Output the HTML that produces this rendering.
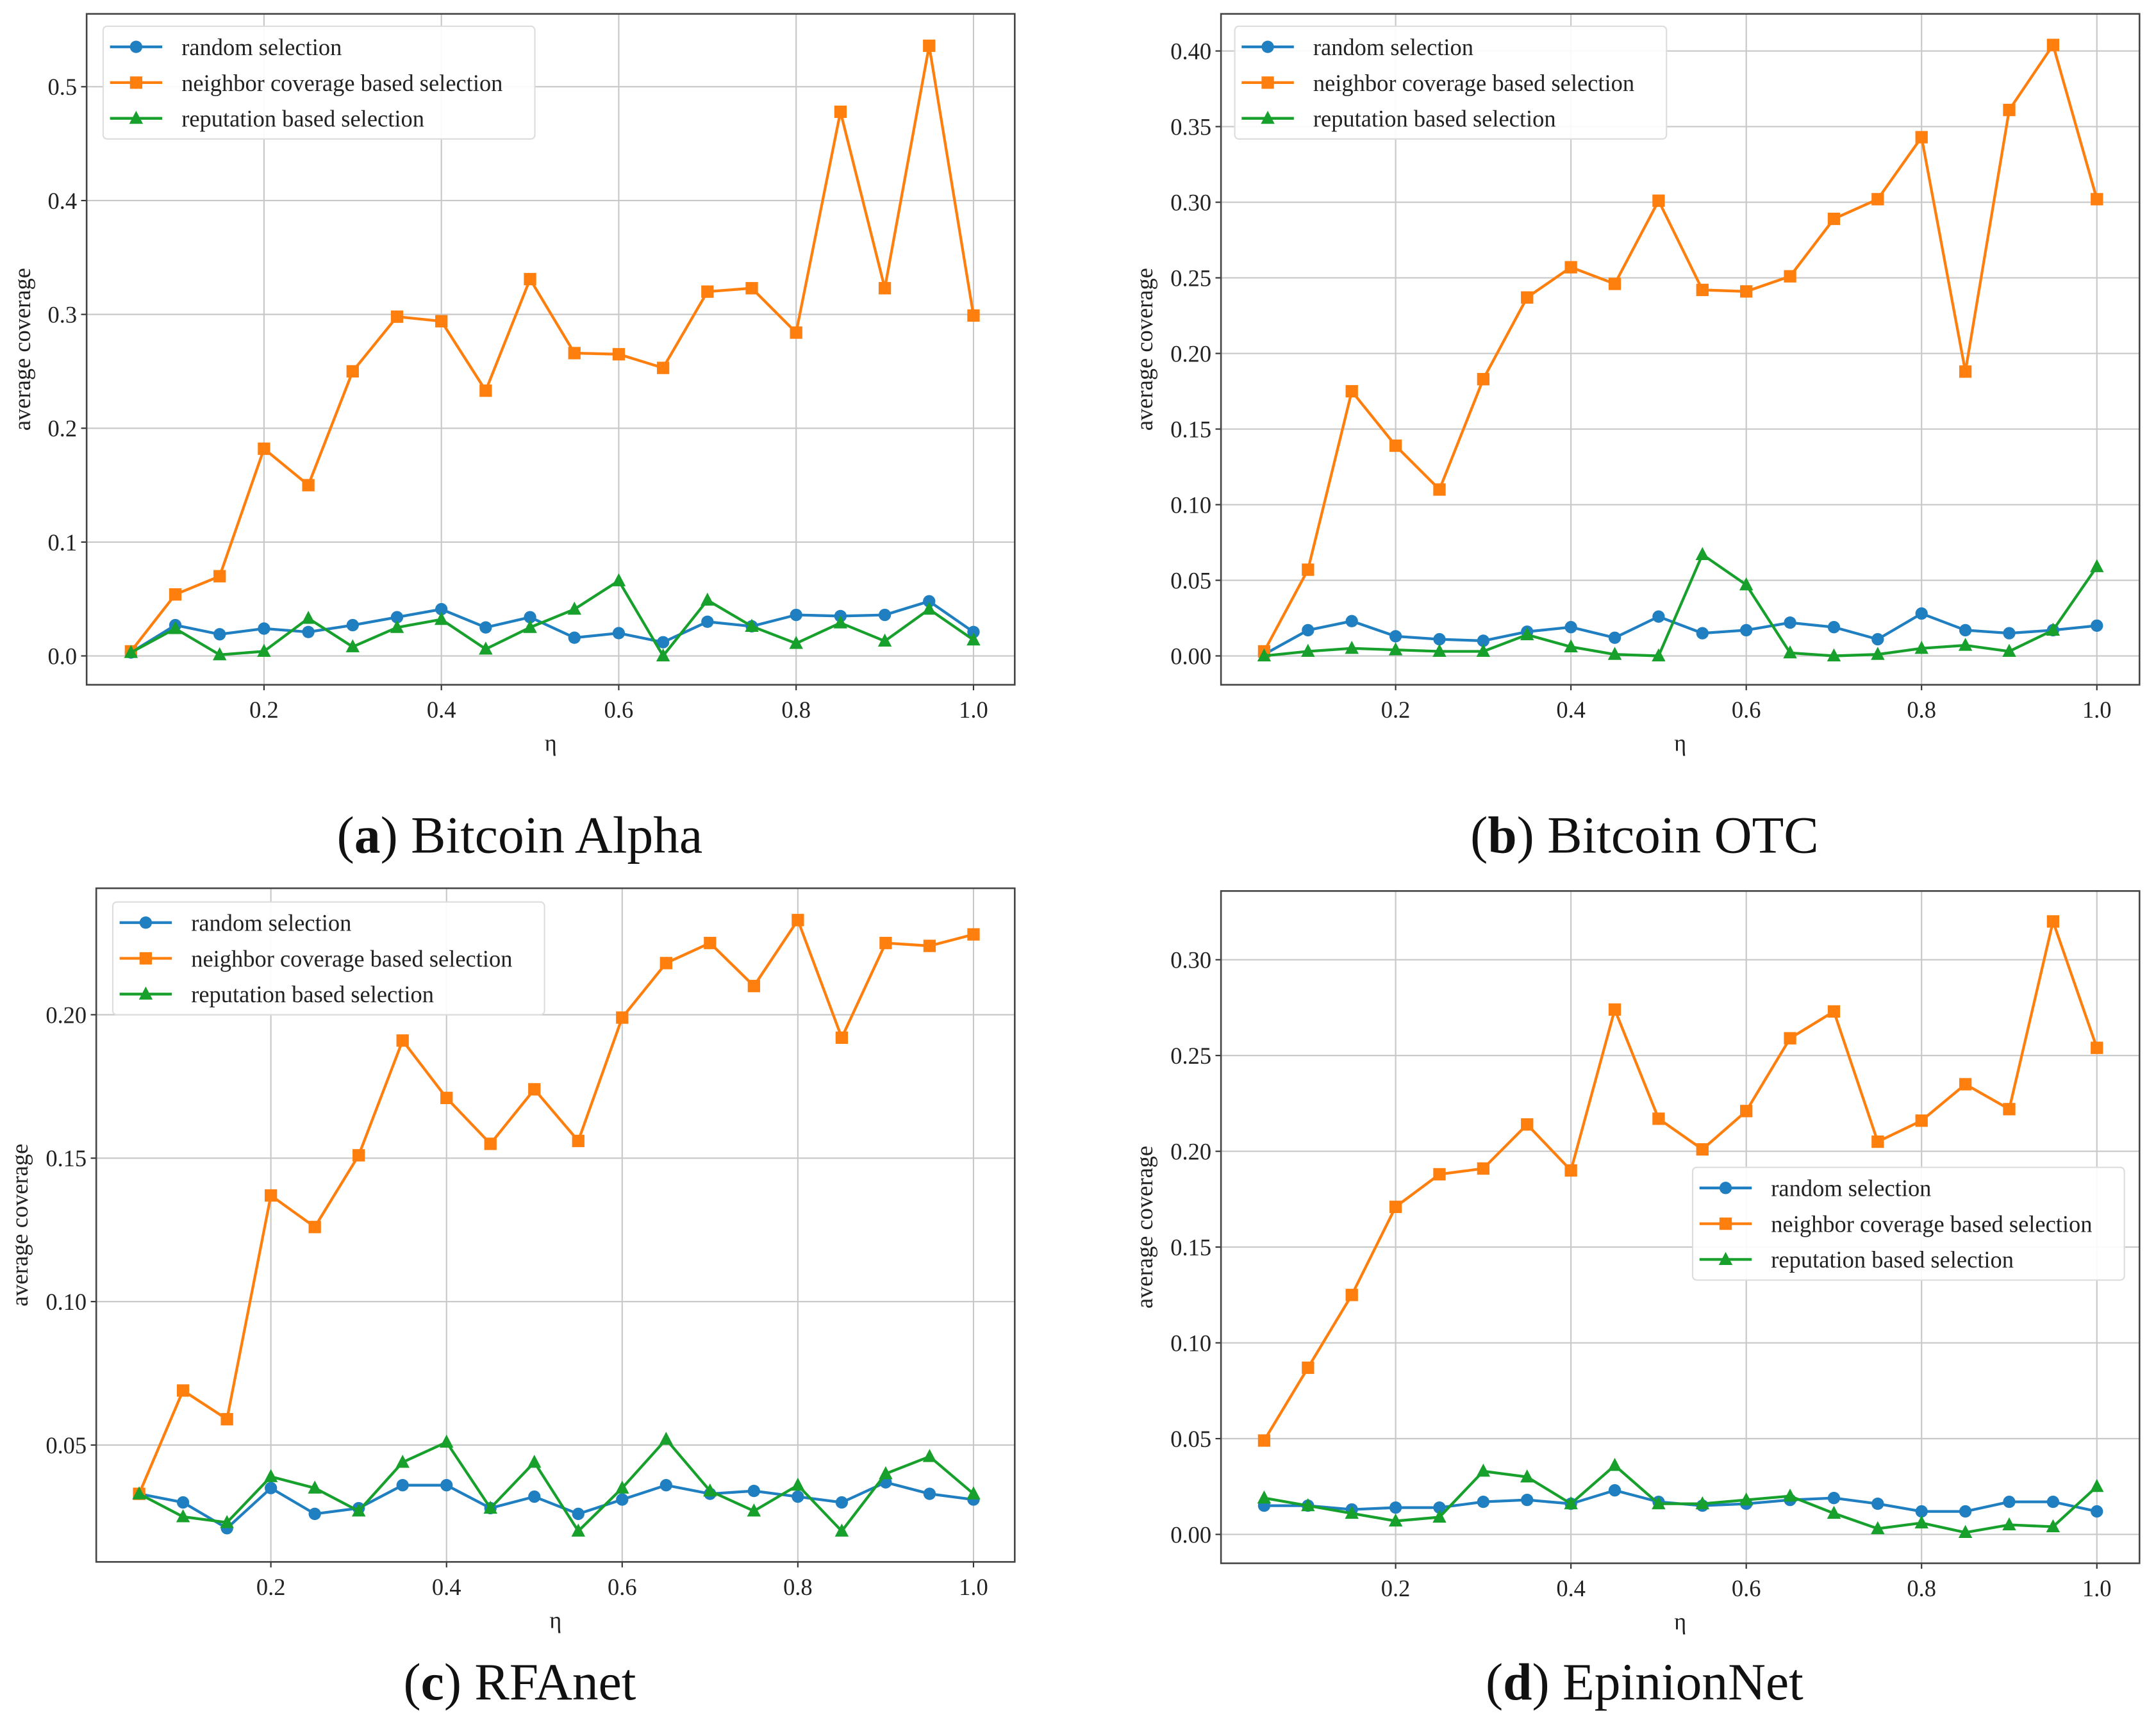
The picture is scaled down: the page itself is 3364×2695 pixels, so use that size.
<!DOCTYPE html>
<html><head><meta charset="utf-8">
<style>
html,body{margin:0;padding:0;background:#fff;}
svg{display:block;font-family:"Liberation Serif","DejaVu Serif",serif;}
svg text{font-family:"Liberation Serif","DejaVu Serif",serif;}
</style></head>
<body>
<svg id="fig" width="3364" height="2695" viewBox="0 0 1568 1256" font-family="Liberation Serif, DejaVu Serif, serif" xmlns="http://www.w3.org/2000/svg"></svg>
<script>
const etaValues = [0.05,0.1,0.15,0.2,0.25,0.3,0.35,0.4,0.45,0.5,0.55,0.6,0.65,0.7,0.75,0.8,0.85,0.9,0.95,1.0];
const xTickValues = [0.2,0.4,0.6,0.8,1.0];
const xTickLabels = ["0.2","0.4","0.6","0.8","1.0"];
const seriesNames = ["random selection","neighbor coverage based selection","reputation based selection"];

const aRandom = [.003,.027,.019,.024,.021,.027,.034,.041,.025,.034,.016,.020,.012,.030,.026,.036,.035,.036,.048,.021];
const aNeighbor = [.004,.054,.070,.182,.150,.250,.298,.294,.233,.331,.266,.265,.253,.320,.323,.284,.478,.323,.536,.299];
const aReputation = [.003,.024,.001,.004,.033,.008,.025,.032,.006,.025,.041,.066,.000,.049,.026,.011,.029,.013,.041,.014];
const aYTicks = [0.0,0.1,0.2,0.3,0.4,0.5];
const aYLabels = ["0.0","0.1","0.2","0.3","0.4","0.5"];

const bRandom = [.001,.017,.023,.013,.011,.010,.016,.019,.012,.026,.015,.017,.022,.019,.011,.028,.017,.015,.017,.020];
const bNeighbor = [.003,.057,.175,.139,.110,.183,.237,.257,.246,.301,.242,.241,.251,.289,.302,.343,.188,.361,.404,.302];
const bReputation = [.000,.003,.005,.004,.003,.003,.014,.006,.001,.000,.067,.047,.002,.000,.001,.005,.007,.003,.017,.059];
const bYTicks = [0,0.05,0.1,0.15,0.2,0.25,0.3,0.35,0.4];
const bYLabels = ["0.00","0.05","0.10","0.15","0.20","0.25","0.30","0.35","0.40"];

const cRandom = [.033,.030,.021,.035,.026,.028,.036,.036,.028,.032,.026,.031,.036,.033,.034,.032,.030,.037,.033,.031];
const cNeighbor = [.033,.069,.059,.137,.126,.151,.191,.171,.155,.174,.156,.199,.218,.225,.210,.233,.192,.225,.224,.228];
const cReputation = [.033,.025,.023,.039,.035,.027,.044,.051,.028,.044,.020,.035,.052,.034,.027,.036,.020,.040,.046,.033];
const cYTicks = [0.05,0.1,0.15,0.2];
const cYLabels = ["0.05","0.10","0.15","0.20"];

const dRandom = [.015,.015,.013,.014,.014,.017,.018,.016,.023,.017,.015,.016,.018,.019,.016,.012,.012,.017,.017,.012];
const dNeighbor = [.049,.087,.125,.171,.188,.191,.214,.190,.274,.217,.201,.221,.259,.273,.205,.216,.235,.222,.320,.254];
const dReputation = [.019,.015,.011,.007,.009,.033,.030,.016,.036,.016,.016,.018,.020,.011,.003,.006,.001,.005,.004,.025];
const dYTicks = [0,0.05,0.1,0.15,0.2,0.25,0.3];
const dYLabels = ["0.00","0.05","0.10","0.15","0.20","0.25","0.30"];

const NS="http://www.w3.org/2000/svg";
const svg=document.getElementById('fig');
const COLORS=["#1f7fc0","#ff7f0e","#18a02c"];
const FF="Liberation Serif, DejaVu Serif, serif";
function mk(tag,attrs,parent){const e=document.createElementNS(NS,tag);for(const k in attrs)e.setAttribute(k,attrs[k]);if(tag==='text')e.setAttribute('font-family',FF);(parent||svg).appendChild(e);return e;}

const panels=[
 {id:'a',L:63,R:738,T:10,B:498,x0:192,x1:708,yv0:0,yp0:477,yv1:0.5,yp1:63,series:[aRandom,aNeighbor,aReputation],yt:aYTicks,yl:aYLabels,leg:[75,19],ylx:22,cap:'Bitcoin Alpha',capY:620,capX:378},
 {id:'b',L:888,R:1556,T:10,B:498,x0:1015,x1:1525,yv0:0,yp0:477,yv1:0.4,yp1:37,series:[bRandom,bNeighbor,bReputation],yt:bYTicks,yl:bYLabels,leg:[898,19],ylx:838,cap:'Bitcoin OTC',capY:620,capX:1196},
 {id:'c',L:70,R:738,T:646,B:1136,x0:197,x1:708,yv0:0.05,yp0:1051,yv1:0.2,yp1:738,series:[cRandom,cNeighbor,cReputation],yt:cYTicks,yl:cYLabels,leg:[82,656],ylx:20,cap:'RFAnet',capY:1236,capX:378},
 {id:'d',L:888,R:1556,T:648,B:1137,x0:1015,x1:1525,yv0:0,yp0:1116,yv1:0.3,yp1:698,series:[dRandom,dNeighbor,dReputation],yt:dYTicks,yl:dYLabels,leg:[1231,849],ylx:838,cap:'EpinionNet',capY:1236,capX:1196}
];

panels.forEach(p=>{
  const g=mk('g',{});
  
  
  const X=v=>p.x0+(v-0.2)/(0.8)*(p.x1-p.x0);
  const Y=v=>p.yp0+(v-p.yv0)/(p.yv1-p.yv0)*(p.yp1-p.yp0);
  xTickValues.forEach((v,i)=>{
    const gl=mk('line',{x1:X(v),x2:X(v),y1:p.T,y2:p.B,stroke:'#c8c8c8','stroke-width':1},g);
    
    
    mk('line',{x1:X(v),x2:X(v),y1:p.B,y2:p.B+4,stroke:'#333','stroke-width':1},g);
    const t=mk('text',{x:X(v),y:p.B+24,'text-anchor':'middle','font-size':17,fill:'#222'},g);
    t.textContent=xTickLabels[i];
    
    
  });
  p.yt.forEach((v,i)=>{
    const gl=mk('line',{x1:p.L,x2:p.R,y1:Y(v),y2:Y(v),stroke:'#c8c8c8','stroke-width':1},g);
    
    
    mk('line',{x1:p.L-4,x2:p.L,y1:Y(v),y2:Y(v),stroke:'#333','stroke-width':1},g);
    const t=mk('text',{x:p.L-7,y:Y(v)+6,'text-anchor':'end','font-size':17,fill:'#222'},g);
    t.textContent=p.yl[i];
    
    
  });
  const frame=mk('rect',{x:p.L,y:p.T,width:p.R-p.L,height:p.B-p.T,fill:'none',stroke:'#444','stroke-width':1.2},g);
  
  
  const marker=(si,cx,cy,parent)=>{
    let m;
    if(si===0) m=mk('circle',{cx:cx,cy:cy,r:4.5,fill:COLORS[0]},parent);
    else if(si===1) m=mk('rect',{x:cx-4.5,y:cy-4.5,width:9,height:9,fill:COLORS[1]},parent);
    else m=mk('polygon',{points:`${cx},${cy-5.5} ${cx+5},${cy+4} ${cx-5},${cy+4}`,fill:COLORS[2]},parent);
    return m;
  };
  p.series.forEach((vals,si)=>{
    const sg=mk('g',{},g);
    
    
    const pts=vals.map((v,i)=>X(etaValues[i])+','+Y(v)).join(' ');
    const pl=mk('polyline',{points:pts,fill:'none',stroke:COLORS[si],'stroke-width':2},sg);
    
    
    vals.forEach((v,i)=>{
      const m=marker(si,X(etaValues[i]),Y(v),sg);
      
      
    });
  });
  const lg=mk('g',{},g);
  
  
  const [lx,ly]=p.leg;
  mk('rect',{x:lx,y:ly,width:314,height:82,rx:3,fill:'#fff','fill-opacity':0.9,stroke:'#ddd','stroke-width':1},lg);
  seriesNames.forEach((n,si)=>{
    const cy=ly+15+si*26;
    const e=mk('g',{},lg);
    
    
    mk('line',{x1:lx+5,x2:lx+43,y1:cy,y2:cy,stroke:COLORS[si],'stroke-width':2},e);
    marker(si,lx+24,cy,e);
    const t=mk('text',{x:lx+57,y:cy+6,'font-size':17,fill:'#222'},e);
    t.textContent=n;
  });
  const xl=mk('text',{x:(p.L+p.R)/2,y:p.B+48,'text-anchor':'middle','font-size':17,fill:'#222'},g);
  xl.textContent='η';
  
  
  const cyl=(p.T+p.B)/2;
  const yl=mk('text',{x:p.ylx,y:cyl,'text-anchor':'middle','font-size':17,fill:'#222',transform:`rotate(-90 ${p.ylx} ${cyl})`},g);
  yl.textContent='average coverage';
  
  
  const cap=mk('text',{x:p.capX,y:p.capY,'text-anchor':'middle','font-size':38,fill:'#111'},g);
  
  
  const t1=mk('tspan',{},cap);t1.textContent='(';
  const t2=mk('tspan',{'font-weight':'bold'},cap);t2.textContent=p.id;
  const t3=mk('tspan',{},cap);t3.textContent=') '+p.cap;
});
</script>
</body></html>
